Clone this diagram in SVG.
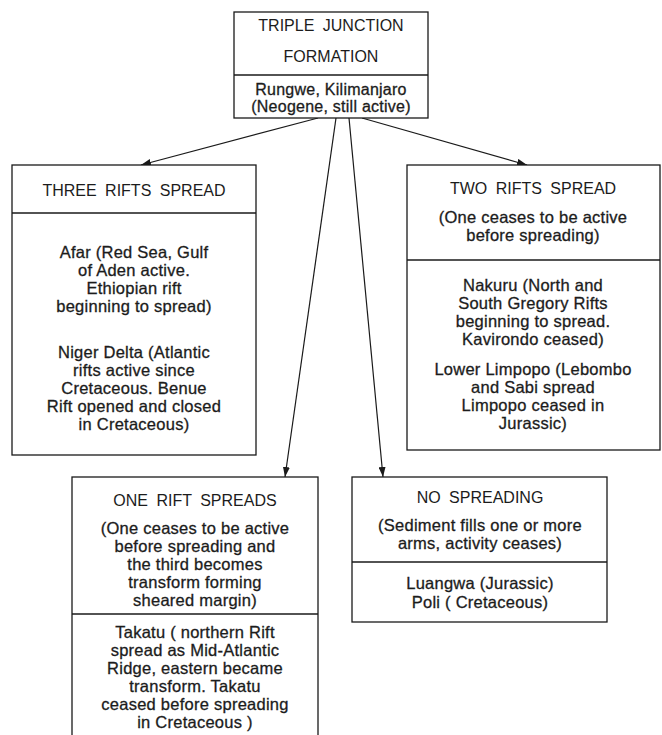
<svg xmlns="http://www.w3.org/2000/svg" width="662" height="735" viewBox="0 0 662 735">
  <defs>
    <marker id="arrow" viewBox="0 0 10 7" refX="10" refY="3.5" markerWidth="10" markerHeight="7" markerUnits="userSpaceOnUse" orient="auto">
      <path d="M0,0 L10,3.5 L0,7 z" fill="#1a1a1a"/>
    </marker>
    <style>
      .box { fill: #ffffff; stroke: #1a1a1a; stroke-width: 1.3; }
      .div { stroke: #1a1a1a; stroke-width: 1.3; }
      .edge { stroke: #1a1a1a; stroke-width: 1.2; fill: none; marker-end: url(#arrow); }
      text { font-family: "Liberation Sans", Arial, sans-serif; fill: #1c1c1c; text-anchor: middle; }
      .t { font-size: 16px; word-spacing: 4px; }
      .b { font-size: 16.5px; letter-spacing: 0.25px; stroke: #1c1c1c; stroke-width: 0.3px; }
      .s { font-size: 16px; letter-spacing: 0.25px; stroke: #1c1c1c; stroke-width: 0.3px; }
    </style>
  </defs>
  <rect width="662" height="735" fill="#ffffff"/>

  <!-- connectors -->
  <g id="connectors">
    <line class="edge" x1="318" y1="118" x2="141" y2="165"/>
    <line class="edge" x1="362" y1="118" x2="527" y2="165"/>
    <line class="edge" x1="336" y1="118" x2="285" y2="477"/>
    <line class="edge" x1="349" y1="118" x2="383" y2="477"/>
  </g>

  <!-- root: triple junction formation -->
  <g id="triple-junction">
    <rect class="box" x="234" y="12" width="194" height="106"/>
    <line class="div" x1="234" y1="75" x2="428" y2="75"/>
    <text class="t" x="331" y="31">TRIPLE JUNCTION</text>
    <text class="t" x="331" y="62">FORMATION</text>
    <text class="s" x="331" y="95">Rungwe, Kilimanjaro</text>
    <text class="s" x="331" y="111.5">(Neogene, still active)</text>
  </g>

  <!-- three rifts spread -->
  <g id="three-rifts">
    <rect class="box" x="12" y="165" width="244" height="290"/>
    <line class="div" x1="12" y1="213" x2="256" y2="213"/>
    <text class="t" x="134" y="196">THREE RIFTS SPREAD</text>
    <text class="b" x="134" y="258">Afar (Red Sea, Gulf</text>
    <text class="b" x="134" y="276">of Aden active.</text>
    <text class="b" x="134" y="294">Ethiopian rift</text>
    <text class="b" x="134" y="312">beginning to spread)</text>
    <text class="b" x="134" y="358">Niger Delta (Atlantic</text>
    <text class="b" x="134" y="376">rifts active since</text>
    <text class="b" x="134" y="394">Cretaceous. Benue</text>
    <text class="b" x="134" y="412">Rift opened and closed</text>
    <text class="b" x="134" y="430">in Cretaceous)</text>
  </g>

  <!-- two rifts spread -->
  <g id="two-rifts">
    <rect class="box" x="407" y="165" width="253" height="285"/>
    <line class="div" x1="407" y1="260" x2="660" y2="260"/>
    <text class="t" x="533" y="194">TWO RIFTS SPREAD</text>
    <text class="b" x="533" y="223">(One ceases to be active</text>
    <text class="b" x="533" y="241">before spreading)</text>
    <text class="b" x="533" y="291">Nakuru (North and</text>
    <text class="b" x="533" y="309">South Gregory Rifts</text>
    <text class="b" x="533" y="327">beginning to spread.</text>
    <text class="b" x="533" y="345">Kavirondo ceased)</text>
    <text class="b" x="533" y="375">Lower Limpopo (Lebombo</text>
    <text class="b" x="533" y="393">and Sabi spread</text>
    <text class="b" x="533" y="411">Limpopo ceased in</text>
    <text class="b" x="533" y="429">Jurassic)</text>
  </g>

  <!-- one rift spreads -->
  <g id="one-rift">
    <rect class="box" x="72" y="477" width="246" height="270"/>
    <line class="div" x1="72" y1="614" x2="318" y2="614"/>
    <text class="t" x="195" y="506">ONE RIFT SPREADS</text>
    <text class="b" x="195" y="534">(One ceases to be active</text>
    <text class="b" x="195" y="552">before spreading and</text>
    <text class="b" x="195" y="570">the third becomes</text>
    <text class="b" x="195" y="588">transform forming</text>
    <text class="b" x="195" y="606">sheared margin)</text>
    <text class="b" x="195" y="638">Takatu ( northern Rift</text>
    <text class="b" x="195" y="656">spread as Mid-Atlantic</text>
    <text class="b" x="195" y="674">Ridge, eastern became</text>
    <text class="b" x="195" y="692">transform. Takatu</text>
    <text class="b" x="195" y="710">ceased before spreading</text>
    <text class="b" x="195" y="728">in Cretaceous )</text>
  </g>

  <!-- no spreading -->
  <g id="no-spreading">
    <rect class="box" x="352" y="477" width="255" height="145"/>
    <line class="div" x1="352" y1="562" x2="607" y2="562"/>
    <text class="t" x="480" y="503">NO SPREADING</text>
    <text class="b" x="480" y="531">(Sediment fills one or more</text>
    <text class="b" x="480" y="549">arms, activity ceases)</text>
    <text class="b" x="480" y="589">Luangwa (Jurassic)</text>
    <text class="b" x="480" y="608">Poli ( Cretaceous)</text>
  </g>
</svg>
